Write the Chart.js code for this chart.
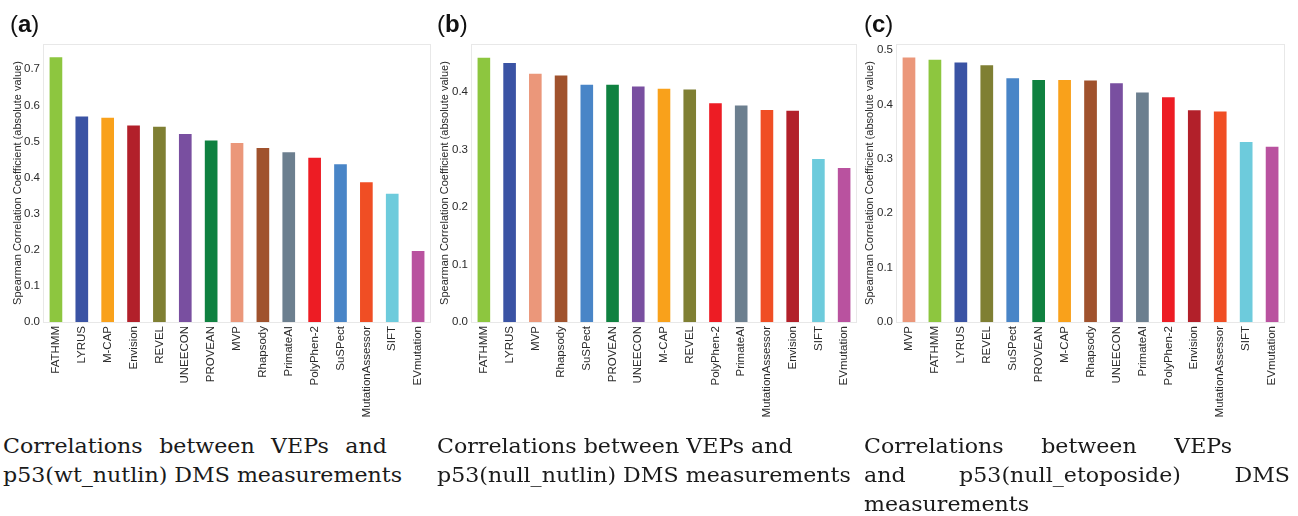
<!DOCTYPE html>
<html><head><meta charset="utf-8">
<script src="https://cdn.jsdelivr.net/npm/chart.js@4.4.0/dist/chart.umd.min.js"></script>
<style>
html,body{margin:0;padding:0;background:#fff;width:1298px;height:516px;overflow:hidden;position:relative}
canvas{position:absolute;top:0}
.plabel{position:absolute;font-family:"Liberation Sans",Arial,sans-serif;font-size:24px;line-height:24px;color:#111;white-space:nowrap}
.plabel b{font-weight:bold}
.cap{position:absolute;font-family:"DejaVu Serif",serif;font-size:21px;line-height:21px;color:#1a1a1a;white-space:nowrap;transform-origin:0 0}
.just{display:flex;justify-content:space-between}
</style></head><body>
<canvas id="ca" width="436" height="430" style="left:0px"></canvas>
<canvas id="cb" width="432" height="430" style="left:430px"></canvas>
<canvas id="cc" width="432" height="430" style="left:858px"></canvas>
<div class="plabel" style="left:10px;top:12px">(<b>a</b>)</div>
<div class="plabel" style="left:437px;top:12px">(<b>b</b>)</div>
<div class="plabel" style="left:864px;top:12px">(<b>c</b>)</div>
<div id="caps"></div>
<script>
// ---- data ----
const catsA = ["FATHMM","LYRUS","M-CAP","Envision","REVEL","UNEECON","PROVEAN","MVP","Rhapsody","PrimateAI","PolyPhen-2","SuSPect","MutationAssessor","SIFT","EVmutation"];
const valsA = [0.733,0.569,0.566,0.544,0.541,0.521,0.503,0.496,0.482,0.470,0.455,0.437,0.387,0.355,0.197];
const catsB = ["FATHMM","LYRUS","MVP","Rhapsody","SuSPect","PROVEAN","UNEECON","M-CAP","REVEL","PolyPhen-2","PrimateAI","MutationAssessor","Envision","SIFT","EVmutation"];
const valsB = [0.460,0.451,0.432,0.429,0.413,0.413,0.410,0.406,0.405,0.381,0.377,0.369,0.368,0.284,0.268];
const catsC = ["MVP","FATHMM","LYRUS","REVEL","SuSPect","PROVEAN","M-CAP","Rhapsody","UNEECON","PrimateAI","PolyPhen-2","Envision","MutationAssessor","SIFT","EVmutation"];
const valsC = [0.486,0.482,0.477,0.472,0.448,0.445,0.445,0.444,0.439,0.422,0.413,0.389,0.387,0.331,0.322];
const yMaxA = 0.77, yMaxB = 0.484, yMaxC = 0.511;
const yTitle = "Spearman Correlation Coefficient (absolute value)";

// ---- styles ----
const COLORS = {
  "FATHMM":"#8dc63f","LYRUS":"#3a53a4","M-CAP":"#f9a11b","Envision":"#b2202a","REVEL":"#7f7f33",
  "UNEECON":"#794fa0","PROVEAN":"#0f8140","MVP":"#eb977a","Rhapsody":"#a0522d","PrimateAI":"#6c7f8f",
  "PolyPhen-2":"#ed1c24","SuSPect":"#4985c7","MutationAssessor":"#f04e24","SIFT":"#6dcbdc","EVmutation":"#b9529f"
};
const FONT = "'Liberation Sans', Arial, sans-serif";
const TXT = '#2a2a2a';

const frame = {
  id:'frame',
  beforeDatasetsDraw(chart){
    const a = chart.chartArea, ctx = chart.ctx;
    ctx.save(); ctx.strokeStyle = '#e8e8e8'; ctx.lineWidth = 1;
    ctx.strokeRect(Math.round(a.left)+0.5, Math.round(a.top)+0.5, Math.round(a.right-a.left)-1, Math.round(a.bottom-a.top));
    ctx.restore();
  }
};

function makeChart(id, cats, vals, yMax, axisW, titlePad, padRight){
  new Chart(document.getElementById(id), {
    type:'bar',
    data:{labels:cats, datasets:[{data:vals, backgroundColor:cats.map(c=>COLORS[c]), borderWidth:0, barPercentage:0.49, categoryPercentage:1}]},
    options:{
      responsive:false, animation:false, devicePixelRatio:1,
      layout:{padding:{top:44,left:0,right:padRight,bottom:0}},
      plugins:{legend:{display:false}, tooltip:{enabled:false}},
      scales:{
        x:{grid:{display:false,drawTicks:false}, border:{display:false},
           ticks:{minRotation:90,maxRotation:90,autoSkip:false,padding:4,color:TXT,font:{family:FONT,size:11.5}},
           afterFit:s=>{s.height=108;}},
        y:{min:0,max:yMax, grid:{display:false,drawTicks:false}, border:{display:false},
           ticks:{stepSize:0.1,includeBounds:false,padding:3,color:TXT,font:{family:FONT,size:11.5},callback:v=>Number(v).toFixed(1)},
           title:{display:true,text:yTitle,color:TXT,font:{family:FONT,size:11},padding:{top:titlePad,bottom:0}},
           afterFit:s=>{s.width=axisW;}}
      }
    },
    plugins:[frame]
  });
}
makeChart('ca', catsA, valsA, yMaxA, 43, 11, 3);
makeChart('cb', catsB, valsB, yMaxB, 41, 8, 2);
makeChart('cc', catsC, valsC, yMaxC, 38, 5, 3);

// ---- captions ----
const capLines = [
  {x:3,   base:454, text:"Correlations between VEPs and", w:384},
  {x:3,   base:483, text:"p53(wt_nutlin) DMS measurements"},
  {x:437, base:454, text:"Correlations between VEPs and"},
  {x:437, base:483, text:"p53(null_nutlin) DMS measurements"},
  {x:864, base:454, text:"Correlations between VEPs", w:368},
  {x:864, base:483, text:"and p53(null_etoposide) DMS", w:426},
  {x:864, base:512, text:"measurements"}
];
const mctx = document.createElement('canvas').getContext('2d');
mctx.font = "21px 'DejaVu Serif'";
const k = 399 / mctx.measureText("p53(wt_nutlin) DMS measurements").width;
const holder = document.getElementById('caps');
capLines.forEach(L=>{
  const d = document.createElement('div');
  d.className = 'cap';
  d.style.left = L.x+'px';
  d.style.top = (L.base - 18)+'px';
  d.style.transform = 'scaleX('+k.toFixed(4)+')';
  if (L.w){
    d.classList.add('just');
    d.style.width = (L.w/k)+'px';
    L.text.split(' ').forEach(w=>{const s=document.createElement('span'); s.textContent=w; d.appendChild(s);});
  } else d.textContent = L.text;
  holder.appendChild(d);
});
</script>
</body></html>
